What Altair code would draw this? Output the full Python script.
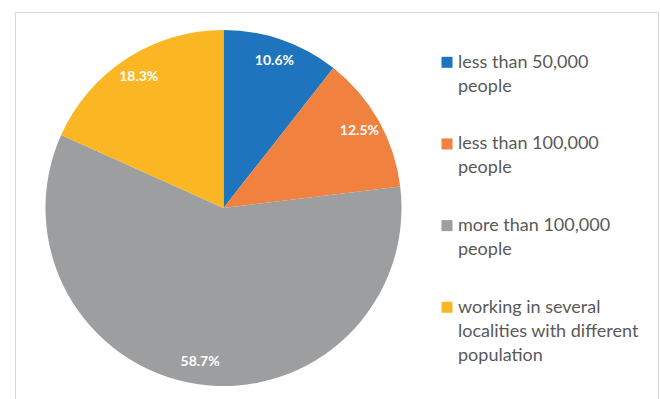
import altair as alt
import pandas as pd

categories = [
    "less than 50,000 people",
    "less than 100,000 people",
    "more than 100,000 people",
    "working in several localities with different population",
]
legend_labels = [
    "less than 50,000\npeople",
    "less than 100,000\npeople",
    "more than 100,000\npeople",
    "working in several\nlocalities with different\npopulation",
]
shares = [10.6, 12.5, 58.7, 18.3]
label_texts = ["10.6%", "12.5%", "58.7%", "18.3%"]
colors = ["#1E74BD", "#F0813F", "#9C9E9F", "#FBB624"]
order_idx = [0, 1, 2, 3]

df = pd.DataFrame({
    "category": categories,
    "legend": legend_labels,
    "share": shares,
    "label": label_texts,
    "idx": order_idx,
})

cx, cy = 208.5, 196
base = alt.Chart(df)
color = alt.Color("category:N", scale=alt.Scale(domain=categories, range=colors), legend=None)
theta = alt.Theta("share:Q", stack=True)
order = alt.Order("idx:Q")

pie = base.mark_arc(outerRadius=178).encode(
    theta=theta, color=color, order=order,
    x=alt.value(cx), y=alt.value(cy),
)

labels = base.mark_text(
    radius=156, font="Lato", fontWeight="bold", fontSize=14, color="white",
    baseline="middle", align="center",
).encode(
    theta=theta, detail="category:N", order=order, text="label:N",
    x=alt.value(cx), y=alt.value(cy),
)

yscale = alt.Y(
    "category:N",
    scale=alt.Scale(domain=categories, range=[50.3, 295.3], padding=0),
    axis=None,
)

leg_sym = base.mark_square(size=121, opacity=1).encode(
    y=yscale, x=alt.value(432), color=color,
)

leg_txt = base.mark_text(
    align="left", baseline="alphabetic", font="Lato", fontSize=18,
    color="#595959", lineBreak="\n", lineHeight=24, dy=5.5,
).encode(
    y=yscale, x=alt.value(443), text="legend:N",
)

chart = alt.layer(pie, labels, leg_sym, leg_txt).properties(
    width=643, height=387,
    padding={"left": 15, "top": 12, "right": 1, "bottom": 0},
    autosize=alt.AutoSizeParams(type="none"),
    background="white",
).configure_view(stroke="#D9D9D9", strokeWidth=1)

chart.save("out.html", embed_options={"renderer": "svg", "actions": False})
